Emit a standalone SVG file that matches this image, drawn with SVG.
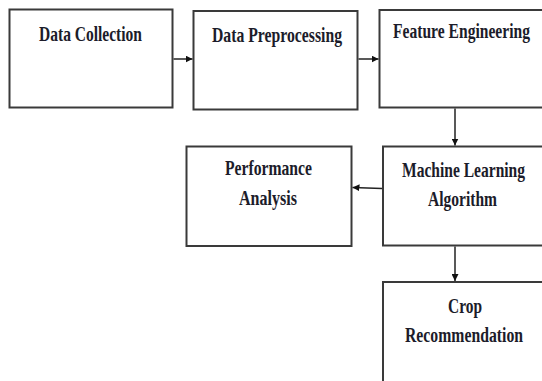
<svg xmlns="http://www.w3.org/2000/svg" width="542" height="381" viewBox="0 0 542 381">
<style>
.box{fill:#fff;stroke:#3a3a3a;stroke-width:2}
.lbl{font-family:"Liberation Serif","Times New Roman",serif;font-weight:bold;font-size:21px;fill:#1c1c2a;text-anchor:middle}
.con{stroke:#222;stroke-width:1.5;fill:none;marker-end:url(#ah)}
</style>
<defs>
<marker id="ah" viewBox="0 0 10 10" refX="10" refY="5" markerWidth="7" markerHeight="7" markerUnits="userSpaceOnUse" orient="auto">
<path d="M0,0 L10,5 L0,10 z" fill="#111"/>
</marker>
</defs>
<rect width="542" height="381" fill="#fff"/>
<g id="data-collection">
<rect class="box" x="9.5" y="9.5" width="163" height="98"/>
<text class="lbl" x="90.5" y="41" textLength="103" lengthAdjust="spacingAndGlyphs">Data Collection</text>
</g>
<g id="data-preprocessing">
<rect class="box" x="193.5" y="11" width="164" height="98.5"/>
<text class="lbl" x="277" y="42" textLength="130" lengthAdjust="spacingAndGlyphs">Data Preprocessing</text>
</g>
<g id="feature-engineering">
<rect class="box" x="379.5" y="10" width="170" height="97.5"/>
<text class="lbl" x="461.5" y="38" textLength="137" lengthAdjust="spacingAndGlyphs">Feature Engineering</text>
</g>
<g id="performance-analysis">
<rect class="box" x="186.5" y="146.5" width="165" height="99.5"/>
<text class="lbl" x="268.5" y="175" textLength="87" lengthAdjust="spacingAndGlyphs">Performance</text>
<text class="lbl" x="268" y="205" textLength="58" lengthAdjust="spacingAndGlyphs">Analysis</text>
</g>
<g id="machine-learning-algorithm">
<rect class="box" x="383" y="146.5" width="170" height="99"/>
<text class="lbl" x="463.5" y="177" textLength="123" lengthAdjust="spacingAndGlyphs">Machine Learning</text>
<text class="lbl" x="462.5" y="206" textLength="69" lengthAdjust="spacingAndGlyphs">Algorithm</text>
</g>
<g id="crop-recommendation">
<rect class="box" x="383" y="282" width="170" height="120"/>
<text class="lbl" x="465" y="313" textLength="34" lengthAdjust="spacingAndGlyphs">Crop</text>
<text class="lbl" x="464" y="342" textLength="118" lengthAdjust="spacingAndGlyphs">Recommendation</text>
</g>
<g id="connectors">
<line class="con" x1="173.5" y1="59" x2="192.5" y2="59"/>
<line class="con" x1="358.5" y1="59" x2="378.5" y2="59"/>
<line class="con" x1="455" y1="108.5" x2="455" y2="145.5"/>
<line class="con" x1="382" y1="188.5" x2="352.5" y2="187.5"/>
<line class="con" x1="455" y1="246.5" x2="455" y2="281"/>
</g>
</svg>
